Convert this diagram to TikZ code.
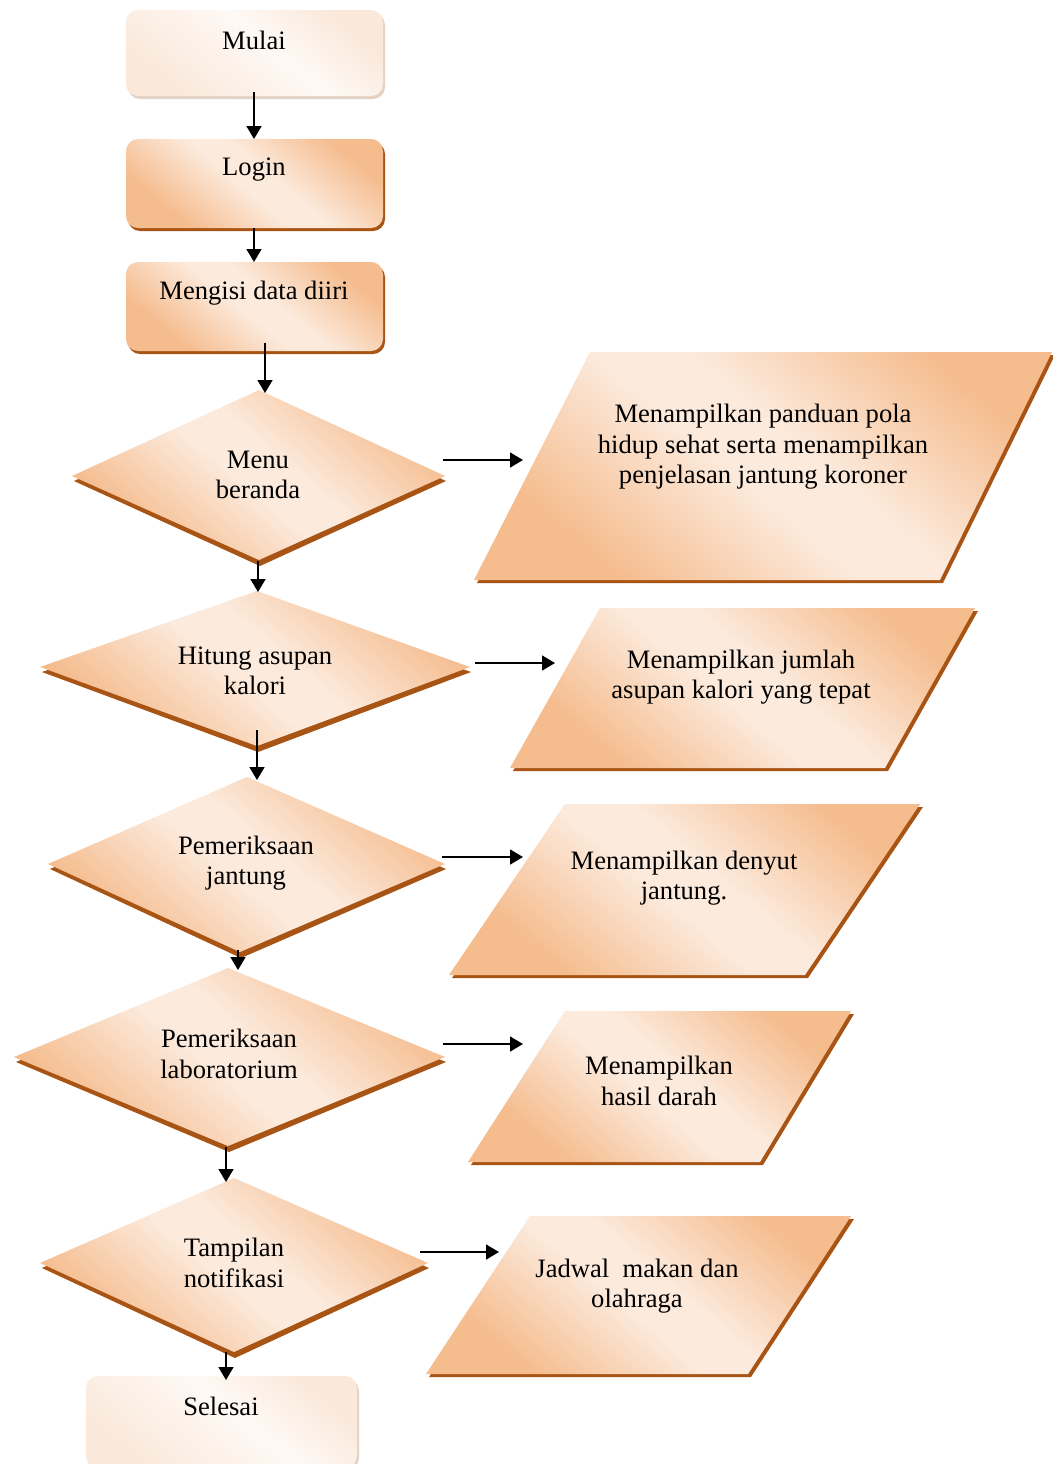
\documentclass[tikz,border=0pt]{standalone}
\usepackage{fontspec}
\setmainfont{Liberation Serif}
\usetikzlibrary{arrows.meta}

\definecolor{peach}{RGB}{245,188,142}
\definecolor{peachlight}{RGB}{252,234,220}
\definecolor{rimbrown}{RGB}{168,84,20}
\definecolor{palepeach}{RGB}{250,232,218}
\definecolor{palelight}{RGB}{254,249,245}
\definecolor{palerim}{RGB}{228,210,196}

% soft diagonal band: orange at both ends, light in the middle
\pgfdeclarehorizontalshading{peachband}{100bp}{color(0bp)=(peach); color(27bp)=(peach); color(47bp)=(peachlight); color(55bp)=(peachlight); color(75bp)=(peach); color(100bp)=(peach)}
\pgfdeclarehorizontalshading{paleband}{100bp}{color(0bp)=(palepeach); color(25bp)=(palepeach); color(55bp)=(palelight); color(75bp)=(palepeach); color(100bp)=(palepeach)}

\begin{document}
\begin{tikzpicture}[x=0.5pt,y=-0.5pt,
  peachfill/.style={shading=peachband,shading angle=50},
  palefill/.style={shading=paleband,shading angle=50},
  rimfill/.style={fill=rimbrown},
  palerimfill/.style={fill=palerim},
  lbl/.style={align=center,font=\fontsize{13.3}{15.2}\selectfont,inner sep=0pt},
  flow/.style={-{Triangle[width=7.5pt,length=6.5pt]},line width=0.75pt,black}
]
\fill[white] (0,0) rectangle (1053,1464);
\clip (0,0) rectangle (1053,1464);

% ---- terminal and process boxes ----
\fill[palerimfill,rounded corners=6pt] (128,13) rectangle (385,99);
\shade[palefill,rounded corners=6pt] (126,10) rectangle (383,96);
\node[lbl] (mulai) at (254,40) {Mulai};

\fill[rimfill,rounded corners=6pt] (128,142) rectangle (385,231);
\shade[peachfill,rounded corners=6pt] (126,139) rectangle (383,228);
\node[lbl] (login) at (254,170) {Login};

\fill[rimfill,rounded corners=6pt] (128,265) rectangle (385,354);
\shade[peachfill,rounded corners=6pt] (126,262) rectangle (383,351);
\node[lbl] (isidata) at (254,293) {Mengisi data diiri};

% ---- decisions ----
\fill[rimfill] (74,481)--(260,395)--(446,481)--(260,566)--cycle;
\shade[peachfill] (72,476)--(259,390)--(445,476)--(259,560)--cycle;
\node[lbl] (beranda) at (258,475) {Menu\\beranda};

\fill[rimfill] (42,672)--(258,596)--(471,672)--(258,752)--cycle;
\shade[peachfill] (40,667)--(257,591)--(470,667)--(257,746)--cycle;
\node[lbl] (kalori) at (255,671) {Hitung asupan\\kalori};

\fill[rimfill] (50,869)--(248,782)--(446,869)--(241,958)--cycle;
\shade[peachfill] (48,864)--(247,777)--(445,864)--(240,952)--cycle;
\node[lbl] (jantung) at (246,863) {Pemeriksaan\\jantung};

\fill[rimfill] (16,1062)--(229,973)--(446,1062)--(229,1152)--cycle;
\shade[peachfill] (14,1057)--(228,968)--(445,1057)--(228,1146)--cycle;
\node[lbl] (lab) at (229,1054) {Pemeriksaan\\laboratorium};

\fill[rimfill] (42,1268)--(235,1183)--(429,1268)--(235,1358)--cycle;
\shade[peachfill] (40,1263)--(234,1178)--(428,1263)--(234,1352)--cycle;
\node[lbl] (notif) at (234,1263) {Tampilan\\notifikasi};

% ---- terminal ----
\fill[palerimfill,rounded corners=6pt] (88,1379) rectangle (359,1470);
\shade[palefill,rounded corners=6pt] (86,1376) rectangle (357,1468);
\node[lbl] (selesai) at (221,1406) {Selesai};

% ---- outputs ----
\fill[rimfill] (593,355)--(1055,355)--(943,583)--(477,583)--cycle;
\shade[peachfill] (590,352)--(1052,352)--(940,580)--(474,580)--cycle;
\node[lbl] (out1) at (763,447) {Menampilkan panduan pola\\hidup sehat serta menampilkan\\penjelasan jantung koroner};

\fill[rimfill] (603,611)--(978,611)--(888,771)--(513,771)--cycle;
\shade[peachfill] (600,608)--(975,608)--(885,768)--(510,768)--cycle;
\node[lbl] (out2) at (741,677) {Menampilkan jumlah\\asupan kalori yang tepat};

\fill[rimfill] (568,807)--(923,807)--(808,978)--(452,978)--cycle;
\shade[peachfill] (565,804)--(920,804)--(805,975)--(449,975)--cycle;
\node[lbl] (out3) at (684,878) {Menampilkan denyut\\jantung.};

\fill[rimfill] (568,1014)--(854,1014)--(763,1165)--(471,1165)--cycle;
\shade[peachfill] (565,1011)--(851,1011)--(760,1162)--(468,1162)--cycle;
\node[lbl] (out4) at (659,1081) {Menampilkan\\hasil darah};

\fill[rimfill] (533,1219)--(854,1219)--(751,1377)--(429,1377)--cycle;
\shade[peachfill] (530,1216)--(851,1216)--(748,1374)--(426,1374)--cycle;
\node[lbl] (out5) at (637,1286) {Jadwal\ \ makan dan\\olahraga};

% ---- connector ends ----
\coordinate (mulaiS) at (254,92);   \coordinate (loginN) at (254,139);
\coordinate (loginS) at (254,228);  \coordinate (isiN) at (254,262);
\coordinate (isiS) at (265,343);    \coordinate (berandaN) at (265,393);
\coordinate (berandaS) at (258,561);\coordinate (kaloriN) at (258,592);
\coordinate (kaloriS) at (257,730); \coordinate (jantungN) at (257,780);
\coordinate (jantungS) at (238,950);\coordinate (labN) at (238,970);
\coordinate (labS) at (226,1147);   \coordinate (notifN) at (226,1182);
\coordinate (notifS) at (226,1352); \coordinate (selesaiN) at (226,1380);

\coordinate (berandaE) at (443,460);\coordinate (out1W) at (523,460);
\coordinate (kaloriE) at (475,663); \coordinate (out2W) at (555,663);
\coordinate (jantungE) at (442,857);\coordinate (out3W) at (523,857);
\coordinate (labE) at (443,1044);   \coordinate (out4W) at (523,1044);
\coordinate (notifE) at (420,1252); \coordinate (out5W) at (499,1252);

% ---- connectors ----
\draw[flow] (mulaiS) -- (loginN);
\draw[flow] (loginS) -- (isiN);
\draw[flow] (isiS) -- (berandaN);
\draw[flow] (berandaS) -- (kaloriN);
\draw[flow] (kaloriS) -- (jantungN);
\draw[flow] (jantungS) -- (labN);
\draw[flow] (labS) -- (notifN);
\draw[flow] (notifS) -- (selesaiN);

\draw[flow] (berandaE) -- (out1W);
\draw[flow] (kaloriE) -- (out2W);
\draw[flow] (jantungE) -- (out3W);
\draw[flow] (labE) -- (out4W);
\draw[flow] (notifE) -- (out5W);
\end{tikzpicture}
\end{document}
